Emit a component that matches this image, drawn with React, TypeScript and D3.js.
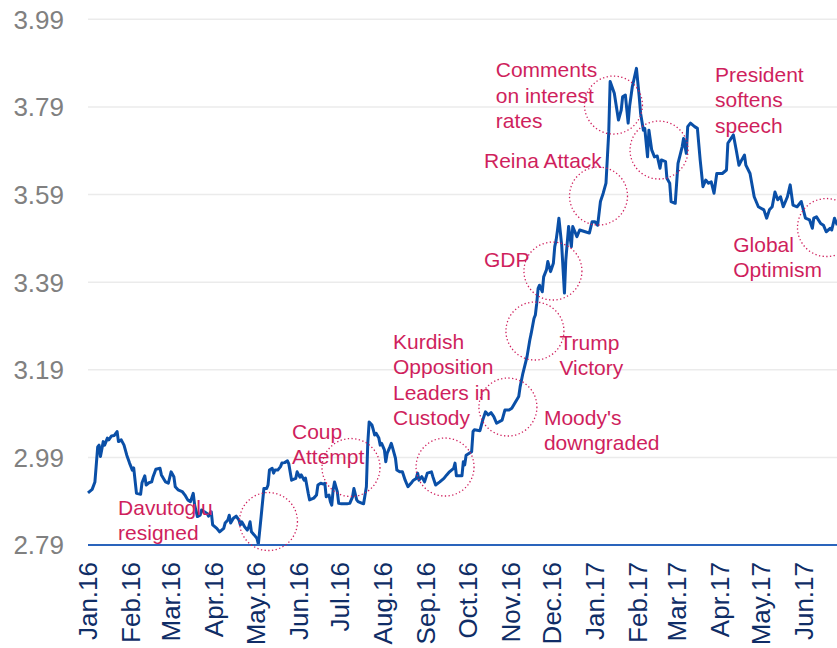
import React from "react";
import * as d3 from "d3";

const startDate = new Date(2016, 0, 1);
const endDate = new Date(2017, 6, 1);

const monthLabels = ["Jan.16","Feb.16","Mar.16","Apr.16","May.16","Jun.16","Jul.16","Aug.16","Sep.16","Oct.16","Nov.16","Dec.16","Jan.17","Feb.17","Mar.17","Apr.17","May.17","Jun.17"];
const yTicks = [2.79, 2.99, 3.19, 3.39, 3.59, 3.79, 3.99];

// days since 2016-01-01
const dayOffsets = [
  0,3,5,7,8,9,11,12,14,15,
  17,19,21,22,24,26,28,30,32,33,
  35,38,39,41,42,44,46,47,49,52,
  53,56,58,60,62,63,65,68,70,72,
  74,76,77,79,81,82,86,87,89,90,
  93,95,98,99,101,102,103,105,107,109,
  110,111,113,115,116,117,118,120,122,123,
  125,127,129,130,131,133,134,135,137,139,
  140,142,144,145,147,150,151,153,154,156,
  157,159,160,163,165,166,168,170,171,172,
  174,175,176,177,178,180,181,183,187,189,
  191,192,194,195,198,199,201,202,203,205,
  206,207,208,210,211,212,214,215,216,218,
  219,220,222,223,225,227,229,231,234,235,
  237,238,239,241,243,245,248,249,251,254,
  257,259,261,264,265,266,270,271,272,273,
  275,277,278,279,283,285,287,289,291,293,
  295,299,301,304,306,308,311,312,314,317,
  319,320,322,323,324,325,326,328,329,331,
  332,334,336,337,338,339,340,342,344,345,
  347,349,350,353,355,359,362,364,366,368,
  370,372,374,376,377,380,383,385,386,388,
  390,391,393,396,398,399,401,402,404,405,
  407,409,411,413,414,417,418,420,421,424,
  426,429,430,432,433,435,438,440,442,444,
  446,448,450,452,454,458,461,462,466,468,
  470,472,474,475,478,481,484,488,490,492,
  494,496,498,500,502,505,507,509,512,515,
  518,521,523,524,526,529,531,533,536,537,
  539,541
];

const rates = [
  2.909,2.917,2.934,3.014,3.018,2.992,3.026,3.018,3.034,3.030,
  3.039,3.040,3.049,3.026,3.030,3.018,2.995,2.977,2.961,2.966,
  2.908,2.906,2.932,2.948,2.927,2.932,2.934,2.946,2.963,2.965,
  2.950,2.934,2.931,2.957,2.946,2.923,2.916,2.912,2.904,2.893,
  2.889,2.908,2.881,2.855,2.858,2.870,2.862,2.856,2.866,2.836,
  2.828,2.820,2.828,2.840,2.847,2.858,2.840,2.851,2.856,2.847,
  2.836,2.843,2.832,2.824,2.831,2.843,2.820,2.813,2.805,2.792,
  2.855,2.919,2.919,2.927,2.961,2.965,2.954,2.961,2.961,2.969,
  2.977,2.978,2.982,2.975,2.938,2.942,2.957,2.945,2.950,2.938,
  2.943,2.908,2.893,2.897,2.904,2.927,2.931,2.929,2.931,2.900,
  2.904,2.889,2.881,2.916,2.934,2.912,2.885,2.884,2.884,2.885,
  2.900,2.919,2.893,2.889,2.885,2.884,2.923,3.022,3.071,3.064,
  3.053,3.041,3.045,3.034,3.018,3.022,3.007,2.980,2.999,3.014,
  3.022,3.011,2.988,2.961,2.957,2.957,2.938,2.923,2.934,2.938,
  2.942,2.954,2.938,2.946,2.934,2.954,2.957,2.946,2.927,2.934,
  2.942,2.950,2.957,2.965,2.977,2.948,2.948,2.980,2.973,2.995,
  2.999,3.003,3.049,3.053,3.051,3.075,3.094,3.087,3.092,3.083,
  3.068,3.075,3.098,3.098,3.102,3.113,3.129,3.151,3.182,3.220,
  3.258,3.273,3.307,3.315,3.342,3.376,3.383,3.368,3.402,3.418,
  3.437,3.414,3.433,3.471,3.486,3.509,3.536,3.475,3.365,3.441,
  3.517,3.471,3.517,3.494,3.509,3.505,3.502,3.528,3.528,3.520,
  3.574,3.593,3.616,3.733,3.848,3.821,3.760,3.783,3.813,3.817,
  3.753,3.790,3.836,3.878,3.813,3.775,3.737,3.741,3.676,3.737,
  3.692,3.676,3.678,3.650,3.669,3.665,3.627,3.616,3.574,3.570,
  3.661,3.699,3.718,3.684,3.745,3.753,3.745,3.741,3.669,3.608,
  3.623,3.616,3.619,3.593,3.638,3.638,3.646,3.707,3.726,3.692,
  3.657,3.669,3.680,3.657,3.638,3.585,3.562,3.555,3.536,3.555,
  3.562,3.596,3.578,3.585,3.562,3.585,3.612,3.566,3.562,3.574,
  3.536,3.532,3.513,3.536,3.539,3.524,3.520,3.505,3.513,3.509,
  3.536,3.520
];

const annotationTexts = [
  ["Davutoglu", "resigned"],
  ["Coup", "Attempt"],
  ["Kurdish", "Opposition", "Leaders in", "Custody"],
  ["Moody's", "downgraded"],
  ["Trump", "Victory"],
  ["GDP"],
  ["Reina Attack"],
  ["Comments", "on interest", "rates"],
  ["President", "softens", "speech"],
  ["Global", "Optimism"],
];
const labelDays = [21.7, 147.3, 220.2, 329.2, 340.4, 285.9, 285.9, 294.4, 452.7, 465.9];
const labelValues = [2.8585, 3.032, 3.2374, 3.0639, 3.2362, 3.4257, 3.6517, 3.8576, 3.8468, 3.4595];
const circleDays = [130.3, 189.9, 257.8, 303.2, 322.7, 335.7, 368.6, 379.4, 412.3, 533.2];
const circleValues = [2.8436, 2.9669, 2.968, 3.105, 3.2785, 3.4154, 3.5866, 3.7943, 3.6916, 3.5147];

const W = 837;
const H = 648;
const FONT = "'Liberation Sans', Arial, sans-serif";
const dayToDate = (d: number) => new Date(startDate.getTime() + d * 864e5);

export default function App() {
  const x = d3.scaleTime().domain([startDate, endDate]).range([88, 88 + 547 * 1.385]);
  const y = d3.scaleLinear().domain([2.79, 3.99]).range([545, 19.3]);

  const data = dayOffsets.map((d, i) => ({ date: dayToDate(d), v: rates[i] }));
  const line = d3
    .line<{ date: Date; v: number }>()
    .x((d) => x(d.date))
    .y((d) => y(d.v));

  const monthDates = monthLabels.map((_, i) => new Date(2016, i, 1));
  const fmt = d3.format(".2f");
  const annColor = "#cf1f5d";

  return (
    <svg
      width={W}
      height={H}
      style={{ position: "absolute", left: 0, top: 0, background: "#fff" }}
      fontFamily={FONT}
    >
      {yTicks.slice(1).map((t) => (
        <line key={t} x1={88} x2={W} y1={y(t)} y2={y(t)} stroke="#ebebeb" strokeWidth={1.5} />
      ))}
      {yTicks.map((t) => (
        <text key={"l" + t} x={64} y={y(t)} dy="0.36em" textAnchor="end" fontSize={26} fill="#808080">
          {fmt(t)}
        </text>
      ))}
      <path d={line(data) || ""} fill="none" stroke="#0a4fa7" strokeWidth={3} strokeLinejoin="round" />
      <line x1={88} x2={W} y1={y(2.79)} y2={y(2.79)} stroke="#2a64bc" strokeWidth={2} />
      {monthDates.map((d, i) => (
        <text
          key={monthLabels[i]}
          transform={`translate(${x(d)},562) rotate(-90)`}
          dy="0.36em"
          textAnchor="end"
          fontSize={26}
          fill="#0f2d66"
        >
          {monthLabels[i]}
        </text>
      ))}
      {circleDays.map((d, i) => (
        <circle
          key={"c" + i}
          cx={x(dayToDate(d))}
          cy={y(circleValues[i])}
          r={29}
          fill="none"
          stroke={annColor}
          strokeWidth={1.3}
          strokeDasharray="1.3 2.4"
        />
      ))}
      {annotationTexts.map((lines, i) => (
        <text key={"a" + i} fontSize={21} fill={annColor}>
          {lines.map((s, j) => (
            <tspan key={j} x={x(dayToDate(labelDays[i]))} y={y(labelValues[i]) + j * 25.3}>
              {s}
            </tspan>
          ))}
        </text>
      ))}
    </svg>
  );
}
